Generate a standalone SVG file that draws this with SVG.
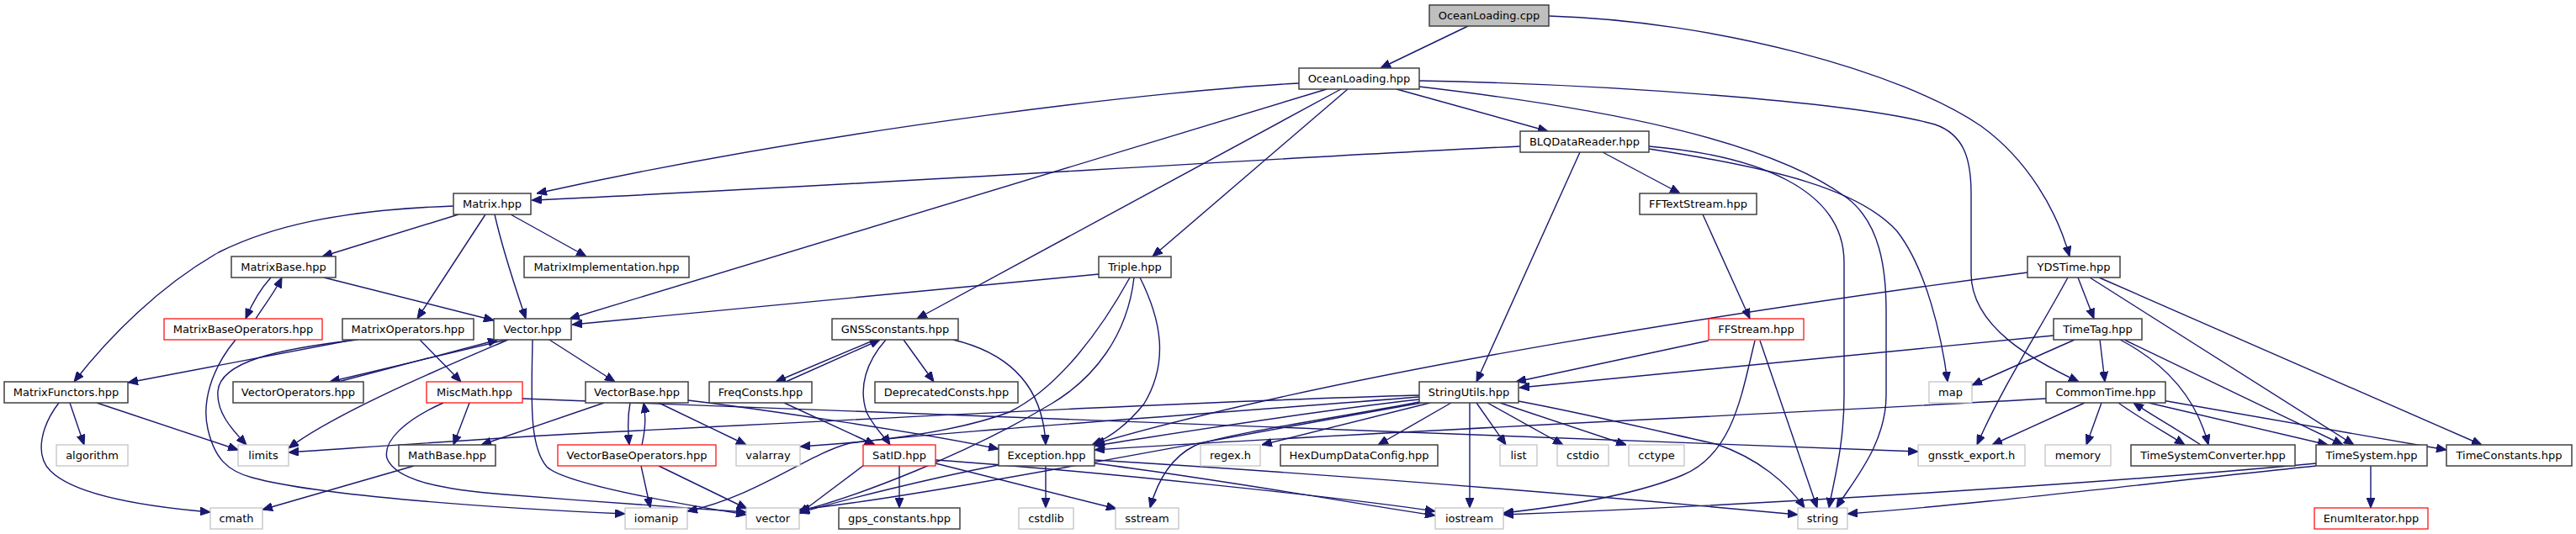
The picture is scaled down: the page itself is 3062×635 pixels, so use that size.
<svg xmlns="http://www.w3.org/2000/svg" width="3062" height="635" viewBox="0 0 3062 635">
<defs>
<style>
.n rect{fill:#fff;stroke:#404040;stroke-width:1.5}
.r rect{stroke:#ff0000;stroke-width:1.2}
.g rect{stroke:#bfbfbf;stroke-width:1.2}
.c rect{fill:#bfbfbf}
text{font-family:"DejaVu Sans",sans-serif;font-size:13px;text-anchor:middle;fill:#000}
#edges path{fill:none;stroke:#191970;stroke-width:1.4;marker-end:url(#a)}
</style>
<marker id="a" markerWidth="12" markerHeight="10" refX="12" refY="5" orient="auto" markerUnits="userSpaceOnUse"><path d="M0,0 L12,5 L0,10 z" fill="#191970" stroke="#191970" stroke-width="1"/></marker>
</defs>
<rect width="3062" height="635" fill="#fff"/>
<g id="edges">
<path d="M1745,31 L1641,81"/>
<path d="M1841,19 C2040,25 2260,85 2355,150 C2410,190 2445,250 2460,305"/>
<path d="M1660,106 L1840,156"/>
<path d="M1544,99 C1400,106 1000,150 638,230"/>
<path d="M1807,174 C1500,188 1000,222 632,238"/>
<path d="M1577,106 L677,379"/>
<path d="M1594,106 L1090,379"/>
<path d="M1602,106 L1370,305"/>
<path d="M1687,96 C1900,100 2200,120 2300,148 C2335,160 2343,190 2343,230 L2343,325 C2343,390 2420,430 2471,454"/>
<path d="M1687,103 C1900,128 2100,165 2195,235 C2235,265 2242,320 2242,370 L2242,470 C2242,530 2200,575 2183,604"/>
<path d="M1960,174 C2090,185 2192,225 2192,312 L2192,470 C2192,530 2180,570 2174,604"/>
<path d="M1960,177 C2110,200 2210,225 2255,275 C2290,320 2308,400 2315,454"/>
<path d="M1905,181 L1997,230"/>
<path d="M1878,181 L1755,454"/>
<path d="M2024,255 L2080,379"/>
<path d="M2031,405 L1802,454"/>
<path d="M2092,405 L2160,604"/>
<path d="M2086,405 C2070,470 2060,540 2000,565 C1940,590 1850,603 1787,610"/>
<path d="M539,245 C400,250 320,270 260,300 C190,340 130,400 88,454"/>
<path d="M545,255 L383,305"/>
<path d="M577,255 L496,379"/>
<path d="M588,255 C598,300 612,340 625,379"/>
<path d="M607,255 L697,305"/>
<path d="M322,330 C310,343 300,360 292,379"/>
<path d="M304,379 C315,362 328,345 335,330"/>
<path d="M385,330 L587,381"/>
<path d="M280,404 C250,440 240,480 247,510 C255,545 270,560 300,568 C380,590 600,605 743,611"/>
<path d="M420,404 L152,455"/>
<path d="M425,404 C330,415 262,430 259,465 C257,490 275,510 293,529"/>
<path d="M499,404 L548,454"/>
<path d="M602,404 L392,454"/>
<path d="M402,454 L592,404"/>
<path d="M604,404 C520,440 400,490 343,533"/>
<path d="M653,404 L731,454"/>
<path d="M633,404 C632,470 628,530 650,555 C670,575 800,598 887,612"/>
<path d="M749,479 C746,495 746,510 748,529"/>
<path d="M763,529 C767,512 768,495 765,479"/>
<path d="M718,479 L572,529"/>
<path d="M783,479 L887,529"/>
<path d="M818,476 C900,486 1100,515 1187,534"/>
<path d="M932,479 L1040,529"/>
<path d="M1040,404 L922,454"/>
<path d="M934,454 L1046,404"/>
<path d="M1074,404 L1110,454"/>
<path d="M1053,404 C1030,430 1020,460 1030,490 C1040,510 1052,520 1058,529"/>
<path d="M1133,404 C1200,420 1240,460 1243,529"/>
<path d="M1069,554 L1069,604"/>
<path d="M1112,551 L1327,605"/>
<path d="M1112,547 C1300,560 1600,592 1706,608"/>
<path d="M1027,553 L950,611"/>
<path d="M1243,554 L1243,604"/>
<path d="M1301,551 C1450,570 1600,597 1706,613"/>
<path d="M1301,547 C1600,565 1900,590 2137,612"/>
<path d="M1187,553 C1100,570 1000,595 950,610"/>
<path d="M1355,330 C1380,380 1390,430 1360,480 C1340,505 1320,520 1298,529"/>
<path d="M1343,330 C1310,390 1260,460 1200,490 C1120,520 1000,528 951,531"/>
<path d="M1348,330 C1340,400 1300,450 1250,480 C1150,540 1020,590 950,608"/>
<path d="M1306,326 L680,386"/>
<path d="M1747,479 L1747,604"/>
<path d="M1755,479 L1790,529"/>
<path d="M1768,479 L1858,529"/>
<path d="M1783,479 L1933,529"/>
<path d="M1725,479 L1638,529"/>
<path d="M1805,477 C1900,495 1980,515 2040,528 C2090,545 2125,575 2145,604"/>
<path d="M1700,479 L1500,529"/>
<path d="M1687,475 C1550,490 1400,515 1301,530"/>
<path d="M1687,472 C1400,495 1100,515 1010,527 C960,540 900,590 817,608"/>
<path d="M1687,470 C1400,478 1000,500 700,515 C550,523 420,533 343,538"/>
<path d="M1687,478 C1600,495 1460,515 1420,530 C1390,545 1375,575 1367,604"/>
<path d="M1690,479 C1400,530 1100,590 950,606"/>
<path d="M558,479 L539,529"/>
<path d="M527,479 C480,500 455,525 460,545 C470,570 520,582 600,588 C700,596 820,605 887,609"/>
<path d="M621,474 L2280,537"/>
<path d="M492,554 L312,606"/>
<path d="M83,479 L100,529"/>
<path d="M115,479 L283,535"/>
<path d="M70,479 C50,505 40,540 60,560 C90,590 180,603 250,609"/>
<path d="M762,554 L773,604"/>
<path d="M783,554 L888,605"/>
<path d="M2470,330 L2489,379"/>
<path d="M2458,330 C2420,400 2380,460 2350,529"/>
<path d="M2484,330 L2798,529"/>
<path d="M2495,330 L2950,529"/>
<path d="M2410,324 C2100,365 1600,440 1301,528"/>
<path d="M2441,399 L1806,461"/>
<path d="M2496,404 L2502,454"/>
<path d="M2520,404 C2570,430 2610,470 2625,529"/>
<path d="M2525,404 L2785,529"/>
<path d="M2466,404 L2344,458"/>
<path d="M2478,479 L2368,529"/>
<path d="M2498,479 L2480,529"/>
<path d="M2518,479 C2540,495 2575,515 2597,529"/>
<path d="M2616,529 C2590,512 2560,495 2536,479"/>
<path d="M2554,479 L2767,529"/>
<path d="M2570,476 L2908,535"/>
<path d="M2432,474 C2100,493 1600,515 1301,535"/>
<path d="M2818,554 L2818,604"/>
<path d="M2753,551 C2500,575 2100,600 1787,612"/>
<path d="M2753,554 C2550,575 2350,600 2196,611"/>
</g>
<g id="n1" class="n c"><rect x="1699" y="6" width="142" height="25"/><text x="1770" y="23">OceanLoading.cpp</text></g>
<g id="n2" class="n"><rect x="1544" y="81" width="143" height="25"/><text x="1615.5" y="98">OceanLoading.hpp</text></g>
<g id="n3" class="n"><rect x="1807" y="156" width="153" height="25"/><text x="1883.5" y="173">BLQDataReader.hpp</text></g>
<g id="n4" class="n"><rect x="539" y="230" width="92" height="25"/><text x="585" y="247">Matrix.hpp</text></g>
<g id="n5" class="n"><rect x="1949" y="230" width="139" height="25"/><text x="2018.5" y="247">FFTextStream.hpp</text></g>
<g id="n6" class="n"><rect x="275" y="305" width="124" height="25"/><text x="337" y="322">MatrixBase.hpp</text></g>
<g id="n7" class="n"><rect x="623" y="305" width="196" height="25"/><text x="721" y="322">MatrixImplementation.hpp</text></g>
<g id="n8" class="n"><rect x="1306" y="305" width="86" height="25"/><text x="1349" y="322">Triple.hpp</text></g>
<g id="n9" class="n"><rect x="2410" y="305" width="110" height="25"/><text x="2465" y="322">YDSTime.hpp</text></g>
<g id="n10" class="n r"><rect x="195" y="379" width="188" height="25"/><text x="289" y="396">MatrixBaseOperators.hpp</text></g>
<g id="n11" class="n"><rect x="407" y="379" width="156" height="25"/><text x="485" y="396">MatrixOperators.hpp</text></g>
<g id="n12" class="n"><rect x="587" y="379" width="92" height="25"/><text x="633" y="396">Vector.hpp</text></g>
<g id="n13" class="n"><rect x="989" y="379" width="150" height="25"/><text x="1064" y="396">GNSSconstants.hpp</text></g>
<g id="n14" class="n r"><rect x="2031" y="379" width="113" height="25"/><text x="2087.5" y="396">FFStream.hpp</text></g>
<g id="n15" class="n"><rect x="2441" y="379" width="105" height="25"/><text x="2493.5" y="396">TimeTag.hpp</text></g>
<g id="n16" class="n"><rect x="5" y="454" width="147" height="25"/><text x="78.5" y="471">MatrixFunctors.hpp</text></g>
<g id="n17" class="n"><rect x="277" y="454" width="155" height="25"/><text x="354.5" y="471">VectorOperators.hpp</text></g>
<g id="n18" class="n r"><rect x="507" y="454" width="114" height="25"/><text x="564" y="471">MiscMath.hpp</text></g>
<g id="n19" class="n"><rect x="696" y="454" width="122" height="25"/><text x="757" y="471">VectorBase.hpp</text></g>
<g id="n20" class="n"><rect x="843" y="454" width="122" height="25"/><text x="904" y="471">FreqConsts.hpp</text></g>
<g id="n21" class="n"><rect x="1040" y="454" width="170" height="25"/><text x="1125" y="471">DeprecatedConsts.hpp</text></g>
<g id="n22" class="n"><rect x="1687" y="454" width="118" height="25"/><text x="1746" y="471">StringUtils.hpp</text></g>
<g id="n23" class="n g"><rect x="2293" y="454" width="51" height="25"/><text x="2318.5" y="471">map</text></g>
<g id="n24" class="n"><rect x="2432" y="454" width="142" height="25"/><text x="2503" y="471">CommonTime.hpp</text></g>
<g id="n25" class="n g"><rect x="67" y="529" width="85" height="25"/><text x="109.5" y="546">algorithm</text></g>
<g id="n26" class="n g"><rect x="283" y="529" width="60" height="25"/><text x="313" y="546">limits</text></g>
<g id="n27" class="n"><rect x="474" y="529" width="115" height="25"/><text x="531.5" y="546">MathBase.hpp</text></g>
<g id="n28" class="n r"><rect x="663" y="529" width="188" height="25"/><text x="757" y="546">VectorBaseOperators.hpp</text></g>
<g id="n29" class="n g"><rect x="875" y="529" width="76" height="25"/><text x="913" y="546">valarray</text></g>
<g id="n30" class="n r"><rect x="1026" y="529" width="86" height="25"/><text x="1069" y="546">SatID.hpp</text></g>
<g id="n31" class="n"><rect x="1187" y="529" width="114" height="25"/><text x="1244" y="546">Exception.hpp</text></g>
<g id="n32" class="n g"><rect x="1427" y="529" width="71" height="25"/><text x="1462.5" y="546">regex.h</text></g>
<g id="n33" class="n"><rect x="1522" y="529" width="187" height="25"/><text x="1615.5" y="546">HexDumpDataConfig.hpp</text></g>
<g id="n34" class="n g"><rect x="1783" y="529" width="44" height="25"/><text x="1805" y="546">list</text></g>
<g id="n35" class="n g"><rect x="1851" y="529" width="61" height="25"/><text x="1881.5" y="546">cstdio</text></g>
<g id="n36" class="n g"><rect x="1936" y="529" width="66" height="25"/><text x="1969" y="546">cctype</text></g>
<g id="n37" class="n g"><rect x="2280" y="529" width="127" height="25"/><text x="2343.5" y="546">gnsstk_export.h</text></g>
<g id="n38" class="n g"><rect x="2431" y="529" width="78" height="25"/><text x="2470" y="546">memory</text></g>
<g id="n39" class="n"><rect x="2533" y="529" width="195" height="25"/><text x="2630.5" y="546">TimeSystemConverter.hpp</text></g>
<g id="n40" class="n"><rect x="2753" y="529" width="132" height="25"/><text x="2819" y="546">TimeSystem.hpp</text></g>
<g id="n41" class="n"><rect x="2908" y="529" width="149" height="25"/><text x="2982.5" y="546">TimeConstants.hpp</text></g>
<g id="n42" class="n g"><rect x="250" y="604" width="62" height="25"/><text x="281" y="621">cmath</text></g>
<g id="n43" class="n g"><rect x="743" y="604" width="74" height="25"/><text x="780" y="621">iomanip</text></g>
<g id="n44" class="n g"><rect x="887" y="604" width="63" height="25"/><text x="918.5" y="621">vector</text></g>
<g id="n45" class="n"><rect x="997" y="604" width="144" height="25"/><text x="1069" y="621">gps_constants.hpp</text></g>
<g id="n46" class="n g"><rect x="1211" y="604" width="65" height="25"/><text x="1243.5" y="621">cstdlib</text></g>
<g id="n47" class="n g"><rect x="1326" y="604" width="75" height="25"/><text x="1363.5" y="621">sstream</text></g>
<g id="n48" class="n g"><rect x="1706" y="604" width="81" height="25"/><text x="1746.5" y="621">iostream</text></g>
<g id="n49" class="n g"><rect x="2137" y="604" width="59" height="25"/><text x="2166.5" y="621">string</text></g>
<g id="n50" class="n r"><rect x="2751" y="604" width="135" height="25"/><text x="2818.5" y="621">EnumIterator.hpp</text></g>
</svg>
